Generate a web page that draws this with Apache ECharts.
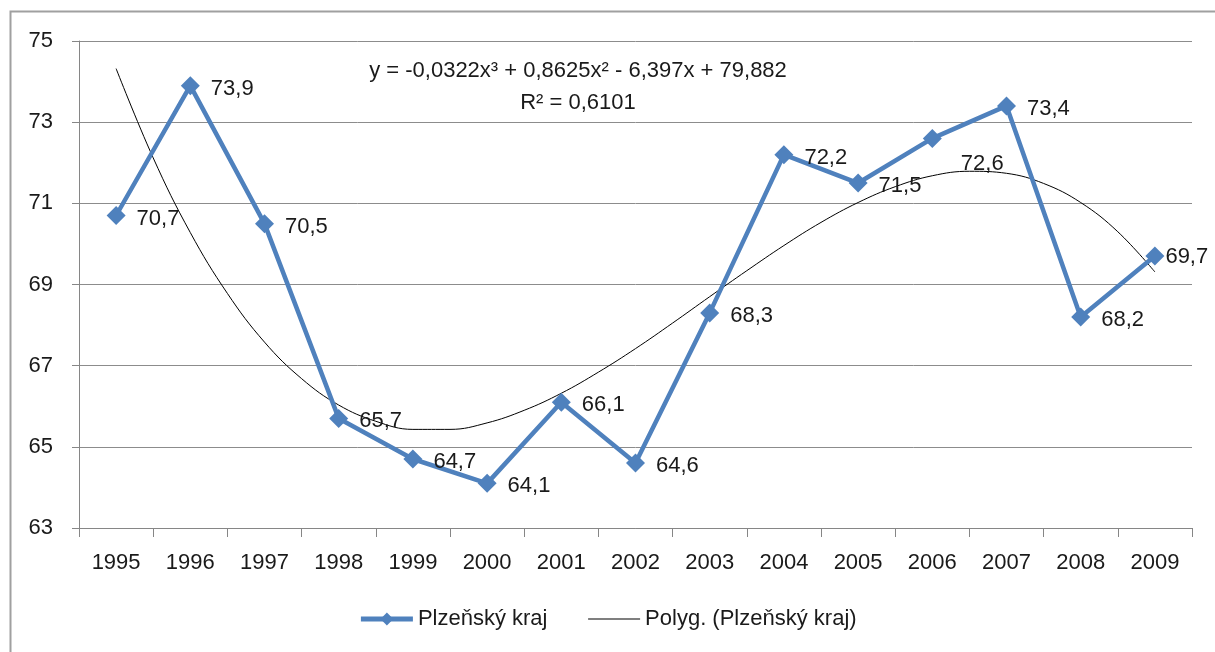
<!DOCTYPE html>
<html><head><meta charset="utf-8">
<script src="https://cdn.jsdelivr.net/npm/echarts@6/dist/echarts.min.js"></script>
<style>html,body{margin:0;padding:0;background:#fff}#c{width:1215px;height:652px}</style>
</head><body><div id="c"></div>
<script>
const years = ['1995','1996','1997','1998','1999','2000','2001','2002','2003','2004','2005','2006','2007','2008','2009'];
const values = [70.7, 73.9, 70.5, 65.7, 64.7, 64.1, 66.1, 64.6, 68.3, 72.2, 71.5, 72.6, 73.4, 68.2, 69.7];
// Trendline (polynomial fit) values at half-year steps
const trendYears = [1995, 1995.5, 1996, 1996.5, 1997, 1997.5, 1998, 1998.5, 1999, 1999.5, 2000, 2000.5, 2001, 2001.5, 2002,
  2002.5, 2003, 2003.5, 2004, 2004.5, 2005, 2005.5, 2006, 2006.5, 2007, 2007.5, 2008, 2008.5, 2009];
const trendValues = [74.32, 72.12, 70.28, 68.78, 67.58, 66.68, 66.03, 65.63, 65.43, 65.43, 65.59, 65.90, 66.32, 66.84, 67.42,
  68.05, 68.70, 69.34, 69.96, 70.53, 71.02, 71.41, 71.68, 71.79, 71.74, 71.49, 71.02, 70.30, 69.31];
const seriesName = 'Plzeňský kraj';
const trendName = 'Polyg. (Plzeňský kraj)';
const equation = 'y = -0,0322x³ + 0,8625x² - 6,397x + 79,882';
const rSquared = 'R² = 0,6101';

const FONT = 'Liberation Sans';
const FS = 22;
const chart = echarts.init(document.getElementById('c'));
const data = values.map((v, i) => {
  const d = {value: v};
  if (i === 11) d.label = {offset: [8, 26]};
  if (i === 14) d.label = {offset: [-10, 1]};
  return d;
});
chart.setOption({
  animation: false,
  textStyle: {fontFamily: FONT},
  grid: {left: 79, right: 23, top: 41, bottom: 124, containLabel: false},
  xAxis: [{
    type: 'category', data: years, boundaryGap: true,
    axisLine: {lineStyle: {color: '#868686', width: 1}},
    axisTick: {show: true, length: 9, lineStyle: {color: '#868686'}},
    axisLabel: {color: '#1a1a1a', fontSize: FS, margin: 24, fontFamily: FONT}
  }, {
    type: 'value', min: 1994.5, max: 2009.5, show: false, position: 'bottom'
  }],
  yAxis: {
    type: 'value', min: 63, max: 75, interval: 2,
    axisLine: {show: true, lineStyle: {color: '#868686', width: 1}},
    axisTick: {show: true, length: 7, lineStyle: {color: '#868686'}},
    axisLabel: {color: '#1a1a1a', fontSize: FS, margin: 26, fontFamily: FONT},
    splitLine: {lineStyle: {color: '#8c8c8c', width: 1}}
  },
  legend: {
    bottom: 17, left: 'center', itemGap: 40, itemWidth: 52, itemHeight: 16,
    textStyle: {fontSize: FS, color: '#1a1a1a', fontFamily: FONT},
    data: [
      {name: seriesName, lineStyle: {width: 5}},
      {name: trendName, lineStyle: {width: 1.2, color: '#000'}, itemStyle: {opacity: 0}}
    ]
  },
  series: [
    {
      name: trendName, type: 'line', xAxisIndex: 1,
      data: trendYears.map((x, i) => [x, trendValues[i]]),
      smooth: 0.4, showSymbol: false, symbol: 'none',
      lineStyle: {color: '#000', width: 1}, itemStyle: {color: '#000'}, z: 3
    },
    {
      name: seriesName, type: 'line', xAxisIndex: 0, data: data, symbol: 'diamond', symbolSize: 19,
      lineStyle: {color: '#4F81BD', width: 4.5}, itemStyle: {color: '#4F81BD'},
      label: {show: true, position: 'right', distance: 11, offset: [0, 3], fontSize: FS, color: '#1a1a1a', fontFamily: FONT,
        formatter: p => String(p.value).replace('.', ',')},
      z: 4
    }
  ],
  graphic: [
    {type: 'rect', shape: {x: 10.5, y: 11.5, width: 1300, height: 800}, style: {fill: 'none', stroke: '#a0a0a0', lineWidth: 2}, silent: true, z: -10},
    {type: 'text', x: 578, y: 60, style: {text: equation, font: FS + 'px "' + FONT + '"', fill: '#1a1a1a', align: 'center', textAlign: 'center'}, z: 10},
    {type: 'text', x: 578, y: 92, style: {text: rSquared, font: FS + 'px "' + FONT + '"', fill: '#1a1a1a', align: 'center', textAlign: 'center'}, z: 10}
  ]
});
</script></body></html>
